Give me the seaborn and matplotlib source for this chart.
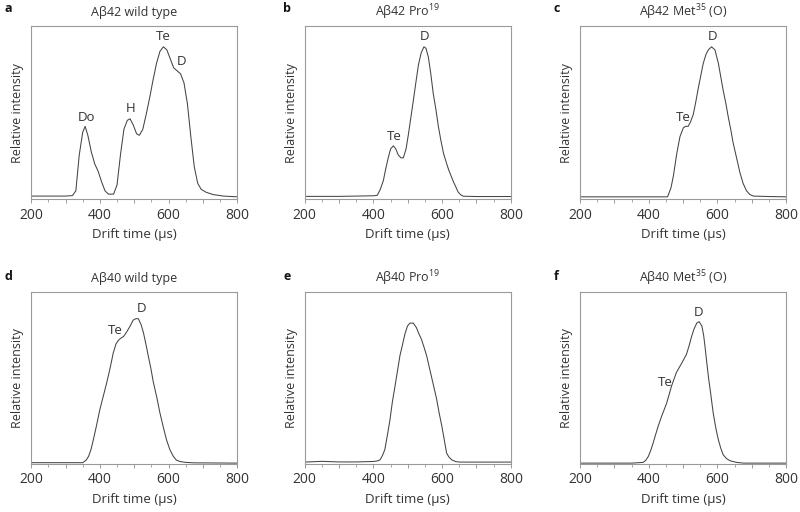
import matplotlib
matplotlib.use("Agg")
import matplotlib.pyplot as plt
from matplotlib.ticker import MultipleLocator, FixedFormatter, FixedLocator
import seaborn as sns
import pandas as pd

# drift time (us) / relative intensity
t_a = [200, 250, 300, 320, 330, 340, 350, 357, 365, 375, 385, 395, 405, 415, 425, 440,
       450, 460, 470, 480, 488, 497, 507, 515, 525, 535, 545, 555, 565, 575, 585, 595,
       605, 615, 625, 635, 645, 655, 665, 675, 685, 695, 710, 730, 760, 800]
y_a = [0.005, 0.005, 0.005, 0.008, 0.04, 0.28, 0.43, 0.47, 0.41, 0.30, 0.22, 0.17, 0.10,
       0.04, 0.018, 0.018, 0.08, 0.28, 0.45, 0.51, 0.52, 0.48, 0.42, 0.41, 0.45, 0.55,
       0.66, 0.78, 0.89, 0.97, 1.0, 0.98, 0.92, 0.86, 0.84, 0.82, 0.76, 0.62, 0.40, 0.20,
       0.09, 0.05, 0.03, 0.015, 0.005, 0.0]

t_b = [200, 300, 400, 411, 420, 429, 436, 443, 450, 458, 465, 472, 480, 487, 495, 502,
       509, 516, 524, 531, 539, 547, 553, 560, 567, 574, 582, 589, 596, 604, 612, 619,
       626, 633, 640, 647, 655, 662, 700, 800]
y_b = [0.003, 0.003, 0.007, 0.01, 0.05, 0.11, 0.19, 0.26, 0.32, 0.34, 0.32, 0.28, 0.26,
       0.26, 0.32, 0.42, 0.53, 0.64, 0.77, 0.88, 0.96, 1.0, 0.99, 0.93, 0.82, 0.69, 0.58,
       0.47, 0.38, 0.29, 0.23, 0.18, 0.14, 0.10, 0.065, 0.03, 0.012, 0.004, 0.002, 0.002]

t_c = [200, 400, 455, 465, 472, 482, 491, 501, 508, 515, 522, 530, 537, 545, 552, 559,
       567, 574, 583, 593, 603, 610, 617, 625, 632, 639, 646, 656, 666, 675, 685, 695,
       705, 750, 800]
y_c = [0.0, 0.0, 0.0, 0.06, 0.14, 0.29, 0.40, 0.46, 0.47, 0.47, 0.50, 0.55, 0.63, 0.73,
       0.81, 0.89, 0.95, 0.98, 1.0, 0.98, 0.89, 0.80, 0.71, 0.62, 0.53, 0.45, 0.36, 0.26,
       0.16, 0.09, 0.04, 0.015, 0.005, 0.002, 0.0]

t_d = [200, 300, 350, 360, 367, 374, 381, 390, 400, 410, 420, 430, 439, 447, 454, 462,
       469, 478, 488, 497, 505, 512, 520, 527, 534, 541, 549, 556, 566, 575, 585, 594,
       604, 614, 623, 633, 650, 672, 800]
y_d = [0.003, 0.003, 0.003, 0.02, 0.045, 0.09, 0.157, 0.25, 0.36, 0.45, 0.54, 0.64, 0.74,
       0.80, 0.825, 0.84, 0.85, 0.88, 0.92, 0.96, 0.97, 0.97, 0.93, 0.875, 0.80, 0.72,
       0.63, 0.54, 0.44, 0.336, 0.24, 0.157, 0.09, 0.045, 0.02, 0.011, 0.005, 0.002, 0.0]

t_e = [200, 250, 300, 350, 400, 412, 419, 426, 433, 440, 448, 455, 463, 470, 477, 485,
       492, 499, 506, 516, 525, 532, 540, 547, 555, 562, 569, 576, 584, 591, 599, 606,
       613, 620, 628, 640, 652, 800]
y_e = [0.007, 0.012, 0.008, 0.008, 0.011, 0.015, 0.022, 0.05, 0.09, 0.18, 0.29, 0.41,
       0.52, 0.62, 0.72, 0.80, 0.87, 0.92, 0.94, 0.94, 0.91, 0.87, 0.83, 0.78, 0.72, 0.65,
       0.58, 0.51, 0.43, 0.34, 0.25, 0.16, 0.067, 0.04, 0.022, 0.01, 0.007, 0.007]

t_f = [200, 350, 384, 392, 399, 406, 413, 420, 428, 437, 452, 467, 481, 496, 510, 518,
       525, 532, 540, 547, 555, 560, 564, 569, 574, 581, 588, 596, 603, 610, 617, 627,
       637, 656, 676, 800]
y_f = [0.0, 0.0, 0.005, 0.02, 0.045, 0.085, 0.135, 0.19, 0.25, 0.31, 0.40, 0.52, 0.61,
       0.67, 0.73, 0.79, 0.85, 0.90, 0.94, 0.95, 0.92, 0.86, 0.785, 0.68, 0.58, 0.46,
       0.336, 0.23, 0.157, 0.10, 0.056, 0.03, 0.016, 0.005, 0.0, 0.0]

letters = ["a", "b", "c", "d", "e", "f"]
titles = ["Aβ42 wild type", "Aβ42 Pro$^{19}$", "Aβ42 Met$^{35}$ (O)",
          "Aβ40 wild type", "Aβ40 Pro$^{19}$", "Aβ40 Met$^{35}$ (O)"]

# peak assignments: (label, drift time, height)
peak_labels = [
    [("Do", 362, 0.53), ("H", 490, 0.59), ("Te", 585, 1.07), ("D", 638, 0.90)],
    [("Te", 460, 0.40), ("D", 550, 1.07)],
    [("Te", 501, 0.53), ("D", 586, 1.07)],
    [("Te", 444, 0.89), ("D", 522, 1.04)],
    [],
    [("Te", 448, 0.54), ("D", 545, 1.01)],
]

curves = [(t_a, y_a), (t_b, y_b), (t_c, y_c), (t_d, y_d), (t_e, y_e), (t_f, y_f)]

sns.set_theme(style="white")
plt.rcParams["font.family"] = ["Open Sans", "DejaVu Sans"]
plt.rcParams["mathtext.fontset"] = "custom"
plt.rcParams["mathtext.rm"] = "Open Sans"
plt.rcParams["mathtext.default"] = "regular"

text_col = "#333333"
line_col = "#444444"
spine_col = "#9a9a9a"

fig = plt.figure(figsize=(8, 5.12), dpi=100)

lefts = [0.039, 0.381, 0.725]
rows = [(0.611, 0.338, (-0.0156, 1.138)), (0.094, 0.336, (-0.005, 1.15))]
letter_x = [0.006, 0.354, 0.692]
letter_y = [0.984, 0.459]

for i, (t, y) in enumerate(curves):
    r, c = divmod(i, 3)
    bottom, height, ylim = rows[r]
    ax = fig.add_axes([lefts[c], bottom, 0.2575, height])
    df = pd.DataFrame({"t": t, "y": y})
    sns.lineplot(data=df, x="t", y="y", ax=ax, color=line_col, linewidth=0.75)

    ax.set_xlim(200, 800)
    ax.set_ylim(*ylim)
    ax.set_yticks([])
    ax.xaxis.set_major_locator(FixedLocator([200, 300, 400, 500, 600, 700, 800]))
    ax.xaxis.set_major_formatter(FixedFormatter(["200", "", "400", "", "600", "", "800"]))
    ax.xaxis.set_minor_locator(MultipleLocator(50))
    ax.tick_params(axis="x", which="major", direction="out", length=3, width=0.7,
                   color=spine_col, labelsize=10, labelcolor=text_col, pad=3, bottom=True)
    ax.tick_params(axis="x", which="minor", direction="out", length=1.8, width=0.6,
                   color=spine_col, bottom=True)
    for s in ax.spines.values():
        s.set_color(spine_col)
        s.set_linewidth(0.8)

    ax.set_xlabel("Drift time (μs)", fontsize=9.5, color=text_col, labelpad=4)
    ax.set_ylabel("Relative intensity", fontsize=9, color=text_col, labelpad=5)
    ax.set_title(titles[i], fontsize=9, color=text_col, pad=7)

    for lab, lx, ly in peak_labels[i]:
        ax.text(lx, ly, lab, ha="center", va="center", fontsize=9.5, color=text_col)

    fig.text(letter_x[c], letter_y[r], letters[i], fontsize=9, fontweight="bold",
             ha="left", va="center", color="#111111")

fig.savefig("out.png", dpi=100)
